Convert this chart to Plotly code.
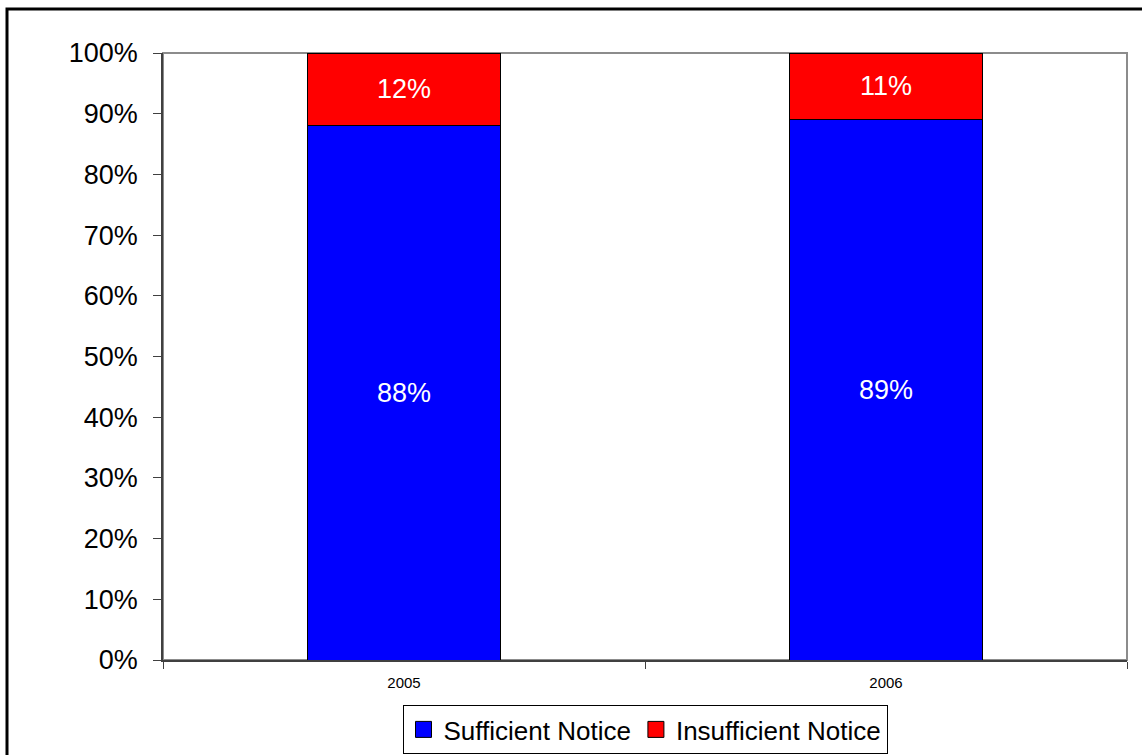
import plotly.graph_objects as go

years = ["2005", "2006"]
sufficient = [88, 89]
insufficient = [12, 11]
y_ticks = [0, 10, 20, 30, 40, 50, 60, 70, 80, 90, 100]
y_tick_labels = [f"{v}%" for v in y_ticks]

FONT = "Arial, Liberation Sans, sans-serif"
W, H = 1142, 755
L, R, T, B = 163, 1127, 53, 660
pw, ph = R - L, B - T

def px_x(p):
    return (p - L) / pw

def px_y(p):
    return (B - p) / ph

BLUE, RED = "#0000FF", "#FF0000"

fig = go.Figure()
fig.add_trace(go.Bar(
    x=years, y=sufficient, name="Sufficient Notice", showlegend=False,
    marker=dict(color=BLUE, line=dict(color="black", width=1)),
    text=[f"{v}%" for v in sufficient], textposition="inside",
    insidetextanchor="middle", textfont=dict(color="white", size=27, family=FONT),
    width=0.4,
))
fig.add_trace(go.Bar(
    x=years, y=insufficient, name="Insufficient Notice", showlegend=False,
    marker=dict(color=RED, line=dict(color="black", width=1)),
    text=[f"{v}%" for v in insufficient], textposition="inside",
    insidetextanchor="middle", textfont=dict(color="white", size=27, family=FONT),
    width=0.4,
))
for nm, col in [("Sufficient Notice", BLUE), ("Insufficient Notice", RED)]:
    fig.add_trace(go.Scatter(
        x=[None], y=[None], mode="markers", name=nm,
        marker=dict(symbol="square", size=22, color=col, line=dict(color="black", width=1)),
        hoverinfo="skip",
    ))

shapes = [
    dict(type="rect", xref="paper", yref="paper", x0=0, y0=0, x1=1, y1=1,
         line=dict(color="#8c8c8c", width=2), layer="below"),
    dict(type="rect", xref="paper", yref="paper",
         x0=px_x(7), x1=px_x(1160), y0=px_y(780), y1=px_y(9),
         line=dict(color="black", width=3), layer="above"),
]

fig.update_layout(
    width=W, height=H,
    margin=dict(l=L, r=W - R, t=T, b=H - B, autoexpand=False),
    barmode="stack",
    bargap=0.6,
    paper_bgcolor="white", plot_bgcolor="white",
    font=dict(family=FONT, color="black"),
    showlegend=True,
    legend=dict(
        orientation="h", x=0.5, xanchor="center", y=px_y(705), yanchor="top",
        font=dict(size=26, family=FONT), bordercolor="black", borderwidth=1,
        bgcolor="white", traceorder="normal", itemclick=False, itemsizing="trace",
        itemwidth=30, tracegroupgap=0,
    ),
    shapes=shapes,
)

fig.update_xaxes(
    type="category", showgrid=False, showline=True, linecolor="#404040", linewidth=2,
    ticks="outside", tickson="boundaries", ticklen=7, tickcolor="#404040",
    tickfont=dict(size=15, family=FONT), zeroline=False, ticklabelstandoff=8,
)
fig.update_yaxes(
    range=[0, 100], tickmode="array", tickvals=y_ticks, ticktext=y_tick_labels,
    showgrid=False, showline=True, linecolor="#404040", linewidth=1.5,
    ticks="outside", ticklen=8, tickcolor="#404040",
    tickfont=dict(size=27, family=FONT), zeroline=False, ticklabelstandoff=10,
)

fig.write_html(
    "out.html",
    config={"displayModeBar": False},
    post_script="document.body.style.margin='0';document.body.style.overflow='hidden';",
)
